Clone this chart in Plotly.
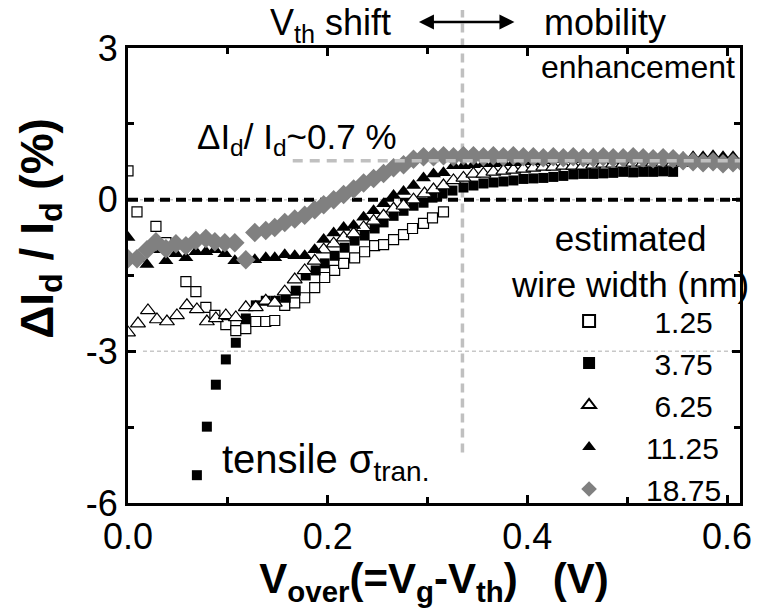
import plotly.graph_objects as go

# ---------------- data ----------------
x_125 = [0.000, 0.009, 0.028, 0.038, 0.058, 0.068, 0.078, 0.087, 0.098, 0.108, 0.118, 0.128, 0.138, 0.147,
         0.157, 0.167, 0.177, 0.187, 0.197, 0.207, 0.216, 0.227, 0.237, 0.247, 0.256, 0.266, 0.276, 0.285,
         0.296, 0.305, 0.316]
y_125 = [0.57, -0.24, -0.53, -0.85, -1.62, -1.82, -2.13, -2.29, -2.47, -2.59, -2.55, -2.41, -2.41, -2.39,
         -2.09, -2.04, -1.94, -1.74, -1.54, -1.40, -1.26, -1.15, -1.03, -0.91, -0.89, -0.79, -0.69, -0.57,
         -0.47, -0.36, -0.24]

x_375 = [0.069, 0.079, 0.088, 0.098, 0.108, 0.118, 0.128, 0.138, 0.148, 0.158, 0.168, 0.178, 0.188, 0.197,
         0.207, 0.217, 0.227, 0.237, 0.247, 0.256, 0.266, 0.276, 0.286, 0.296, 0.305, 0.315, 0.325, 0.336,
         0.346, 0.356, 0.366, 0.376, 0.386, 0.396, 0.406, 0.416, 0.426, 0.436, 0.446, 0.456, 0.466, 0.476,
         0.486, 0.496, 0.506, 0.516, 0.526, 0.536, 0.546]
y_375 = [-5.45, -4.49, -3.66, -3.16, -2.83, -2.35, -2.09, -2.00, -2.00, -1.94, -1.80, -1.50, -1.40, -1.26,
         -1.11, -0.95, -0.81, -0.71, -0.57, -0.45, -0.32, -0.22, -0.12, -0.06, 0.04, 0.12, 0.18, 0.24,
         0.28, 0.32, 0.34, 0.36, 0.38, 0.41, 0.42, 0.43, 0.45, 0.47, 0.50, 0.51, 0.51, 0.52,
         0.53, 0.55, 0.54, 0.55, 0.55, 0.56, 0.55]

x_625 = [0.000, 0.010, 0.020, 0.029, 0.039, 0.049, 0.059, 0.069, 0.079, 0.088, 0.098, 0.108, 0.118, 0.128,
         0.138, 0.147, 0.157, 0.167, 0.177, 0.187, 0.196, 0.206, 0.216, 0.226, 0.236, 0.246, 0.256, 0.266,
         0.276, 0.286, 0.297, 0.306, 0.316, 0.326, 0.336, 0.346, 0.356, 0.366, 0.376, 0.386, 0.396, 0.406,
         0.416, 0.426, 0.436, 0.446, 0.456, 0.466, 0.476, 0.486, 0.496, 0.506, 0.516, 0.526, 0.536, 0.546,
         0.556, 0.566, 0.576, 0.586, 0.596, 0.606]
y_625 = [-2.63, -2.45, -2.19, -2.37, -2.41, -2.29, -2.09, -2.17, -2.41, -2.35, -2.29, -2.33, -2.13, -2.13,
         -2.00, -2.04, -1.82, -1.58, -1.40, -1.21, -0.99, -0.87, -0.75, -0.67, -0.55, -0.42, -0.32, -0.18,
         -0.12, 0.00, 0.12, 0.20, 0.28, 0.38, 0.43, 0.51, 0.51, 0.55, 0.57, 0.59, 0.61, 0.63,
         0.65, 0.65, 0.67, 0.67, 0.67, 0.69, 0.71, 0.71, 0.71, 0.73, 0.73, 0.73, 0.73, 0.73,
         0.73, 0.73, 0.72, 0.72, 0.72, 0.72]

x_1125 = [0.000, 0.009, 0.019, 0.028, 0.038, 0.048, 0.058, 0.068, 0.078, 0.087, 0.097, 0.107, 0.117, 0.127,
          0.138, 0.147, 0.157, 0.167, 0.177, 0.187, 0.196, 0.206, 0.216, 0.226, 0.236, 0.246, 0.256, 0.266,
          0.276, 0.286, 0.296, 0.306, 0.316, 0.326, 0.336, 0.346, 0.356, 0.366, 0.376, 0.386, 0.396, 0.406,
          0.416, 0.426, 0.436, 0.446, 0.456, 0.466, 0.476, 0.486, 0.496, 0.506, 0.516, 0.526, 0.536, 0.546,
          0.556, 0.566, 0.576, 0.586, 0.596, 0.606]
y_1125 = [-0.75, -1.17, -1.28, -0.99, -1.21, -1.07, -1.15, -1.03, -1.03, -0.99, -1.07, -1.21, -1.19, -1.19,
          -1.15, -1.15, -1.09, -1.11, -1.11, -0.99, -0.79, -0.66, -0.55, -0.51, -0.35, -0.22, -0.08, 0.08,
          0.16, 0.28, 0.43, 0.51, 0.53, 0.67, 0.67, 0.69, 0.71, 0.71, 0.73, 0.73, 0.75, 0.75,
          0.77, 0.79, 0.79, 0.79, 0.81, 0.81, 0.83, 0.83, 0.81, 0.83, 0.85, 0.83, 0.85, 0.85,
          0.83, 0.85, 0.85, 0.87, 0.85, 0.85]

x_1875 = [0.000, 0.009, 0.019, 0.028, 0.038, 0.048, 0.058, 0.068, 0.078, 0.087, 0.097, 0.107, 0.118, 0.127,
          0.138, 0.147, 0.157, 0.167, 0.177, 0.187, 0.196, 0.206, 0.216, 0.226, 0.236, 0.246, 0.256, 0.266,
          0.276, 0.286, 0.296, 0.306, 0.316, 0.326, 0.336, 0.346, 0.356, 0.366, 0.376, 0.386, 0.396, 0.406,
          0.416, 0.426, 0.436, 0.446, 0.456, 0.466, 0.476, 0.486, 0.496, 0.506, 0.516, 0.526, 0.536, 0.546,
          0.556, 0.566, 0.576, 0.586, 0.596, 0.606, 0.616]
y_1875 = [-1.17, -1.17, -0.99, -0.83, -0.97, -0.87, -0.91, -0.81, -0.77, -0.83, -0.85, -0.85, -1.19, -0.65,
          -0.61, -0.55, -0.45, -0.38, -0.31, -0.20, -0.10, 0.00, 0.10, 0.21, 0.33, 0.42, 0.52, 0.63,
          0.69, 0.80, 0.85, 0.85, 0.87, 0.85, 0.87, 0.87, 0.85, 0.87, 0.85, 0.87, 0.85, 0.85,
          0.83, 0.85, 0.83, 0.85, 0.83, 0.83, 0.85, 0.83, 0.83, 0.85, 0.83, 0.81, 0.83, 0.81,
          0.77, 0.75, 0.73, 0.75, 0.71, 0.73, 0.71]

series = [
    ("1.25", x_125, y_125, "square", "white", 10),
    ("3.75", x_375, y_375, "square", "black", 10),
    ("6.25", x_625, y_625, "triangle-up", "white", 13),
    ("11.25", x_1125, y_1125, "triangle-up", "black", 13),
    ("18.75", x_1875, y_1875, "diamond", "#808080", 15),
]

x_ticks = [0.0, 0.2, 0.4, 0.6]
x_ticktext = ["0.0", "0.2", "0.4", "0.6"]
y_ticks = [-6, -3, 0, 3]
y_ticktext = ["-6", "-3", "0", "3"]

X_RANGE = [0.0, 0.613]
Y_RANGE = [-6.0, 3.0]
vth_boundary = 0.335      # V_th shift / mobility boundary
plateau_level = 0.77      # ~0.7 % level line
plateau_start = 0.165

FONT = "Liberation Sans, Arial, sans-serif"

# ---------------- figure ----------------
fig = go.Figure()

for name, xs, ys, sym, col, size in series:
    assert len(xs) == len(ys), name
    label = name if len(name) == 5 else "\u00a0" + name
    line_col = "#808080" if col == "#808080" else "black"
    fig.add_trace(go.Scatter(
        x=xs, y=ys, mode="markers", name=label,
        marker=dict(symbol=sym, size=size, color=col,
                    line=dict(color=line_col, width=1.2 if col == "white" else 0)),
    ))

L, R, T, B = 128, 11, 48, 105
W, H = 763, 608
PW, PH = W - L - R, H - T - B


def px_x(p):
    return (p - L) / PW


def px_y(p):
    return (H - B - p) / PH


def data_to_paper_y(v):
    return (v - Y_RANGE[0]) / (Y_RANGE[1] - Y_RANGE[0])


shapes = [
    dict(type="line", xref="x", yref="y", x0=0.015, x1=X_RANGE[1], y0=-3, y1=-3,
         line=dict(color="#c8c8c8", width=1.5, dash="4px,3px"), layer="below"),
    dict(type="line", xref="x", yref="y", x0=0, x1=X_RANGE[1], y0=0, y1=0,
         line=dict(color="#c8c8c8", width=1.5, dash="3px,3px"), layer="below"),
    dict(type="line", xref="x", yref="y", x0=0, x1=X_RANGE[1], y0=0, y1=0,
         line=dict(color="black", width=4, dash="10px,6px"), layer="below"),
    dict(type="line", xref="x", yref="y", x0=plateau_start, x1=X_RANGE[1], y0=plateau_level, y1=plateau_level,
         line=dict(color="#c0c0c0", width=3.5, dash="10px,7px"), layer="above"),
    dict(type="line", xref="x", yref="paper", x0=vth_boundary, x1=vth_boundary,
         y0=data_to_paper_y(-5.0), y1=px_y(10),
         line=dict(color="#c0c0c0", width=3.5, dash="9px,6px"), layer="below"),
]

annotations = [
    dict(text="V<sub>th</sub> shift", x=px_x(398), y=px_y(25), xanchor="right", yanchor="middle",
         font=dict(size=36, color="black", family=FONT)),
    dict(text="", x=px_x(522), y=px_y(22), ax=-97, ay=0, showarrow=True, arrowside="end+start",
         arrowhead=2, arrowsize=1.2, arrowwidth=2.5, arrowcolor="black"),
    dict(text="mobility", x=px_x(550), y=px_y(23), xanchor="left", yanchor="middle",
         font=dict(size=36, color="black", family=FONT)),
    dict(text="enhancement", x=px_x(749), y=px_y(67), xanchor="right", yanchor="middle",
         font=dict(size=32, color="black", family=FONT)),
    dict(text="ΔI<sub>d</sub>/ I<sub>d</sub>~0.7 %", x=px_x(196), y=px_y(139), xanchor="left", yanchor="middle",
         font=dict(size=35, color="black", family=FONT)),
    dict(text="tensile σ<sub>tran.</sub>", x=px_x(222), y=px_y(462), xanchor="left", yanchor="middle",
         font=dict(size=40, color="black", family=FONT)),
    dict(text="estimated<br>wire width (nm)", x=px_x(640), y=px_y(261), xanchor="center", yanchor="middle",
         align="center", font=dict(size=35, color="black", family=FONT)),
    dict(text="<b>ΔI<sub>d</sub> / I<sub>d</sub> (%)</b>", x=px_x(38), y=px_y(228), xanchor="center",
         yanchor="middle", textangle=-90, font=dict(size=46, color="black", family=FONT)),
]
for a in annotations:
    a.setdefault("xref", "paper")
    a.setdefault("yref", "paper")
    a.setdefault("showarrow", False)

axis_common = dict(
    showline=True, linecolor="black", linewidth=3, mirror="allticks",
    ticks="inside", ticklen=8, tickwidth=2.5, tickcolor="black",
    showgrid=False, zeroline=False,
    tickfont=dict(size=36, color="black", family=FONT),
)

fig.update_layout(
    width=W, height=H,
    margin=dict(l=L, r=R, t=T, b=B),
    paper_bgcolor="white", plot_bgcolor="white",
    font=dict(family=FONT, color="black"),
    showlegend=True,
    legend=dict(x=px_x(540), y=px_y(295), xanchor="left", yanchor="top",
                bgcolor="rgba(0,0,0,0)", borderwidth=0, itemwidth=104, itemsizing="constant",
                font=dict(size=30, color="black", family=FONT), tracegroupgap=0),
    xaxis=dict(range=X_RANGE, tickvals=x_ticks, ticktext=x_ticktext,
               minor=dict(ticks="inside", dtick=0.1, ticklen=6, tickwidth=2.5, tickcolor="black"),
               title=dict(text="<b>V<sub>over</sub>(=V<sub>g</sub>-V<sub>th</sub>)\u00a0\u00a0\u00a0(V)</b>",
                          font=dict(size=42, color="black", family=FONT), standoff=4),
               **axis_common),
    yaxis=dict(range=Y_RANGE, tickvals=y_ticks, ticktext=y_ticktext,
               minor=dict(ticks="inside", dtick=1.5, ticklen=6, tickwidth=2.5, tickcolor="black"),
               **axis_common),
    shapes=shapes,
    annotations=annotations,
)

fig.write_html("out.html")
